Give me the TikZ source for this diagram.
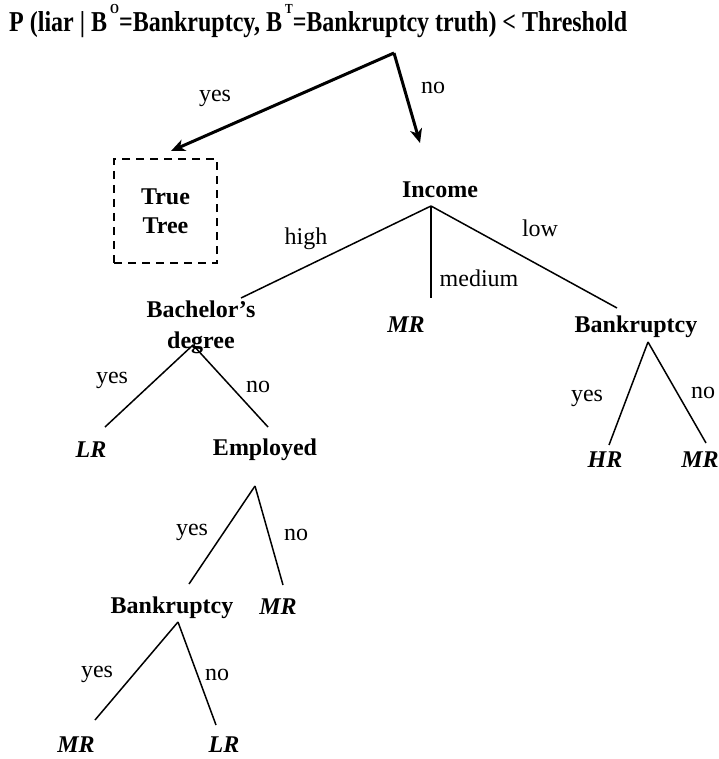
\documentclass[tikz,border=0pt]{standalone}
\usepackage{fontspec}
\setmainfont{Liberation Serif}
\usetikzlibrary{arrows.meta,calc}
\newcommand{\supl}[1]{\hspace{3pt}\raisebox{15.5pt}{\fontsize{11.5}{11.5}\selectfont #1}}
\begin{document}
\begin{tikzpicture}[x=1pt,y=-1pt,
  bnode/.style={font=\fontsize{24}{31}\selectfont\bfseries, inner sep=0pt, align=center},
  leaf/.style={font=\fontsize{24}{26}\selectfont\bfseries\itshape, inner sep=0pt},
  lbl/.style={font=\fontsize{24}{26}\selectfont, inner sep=0pt},
  edge/.style={line width=1.5pt},
  bigarrow/.style={line width=3pt, -{Stealth[length=14pt,width=12pt,inset=4pt]}}
]
\useasboundingbox (0,0) rectangle (718,759);

% title
\node[bnode, anchor=base west] (title) at (9,32) {\scalebox{1}[1.2]{P (liar | B\supl{O}=Bankruptcy, B\supl{T}=Bankruptcy truth) < Threshold}};
\coordinate (apex) at (394,53);

% true tree box
\node[bnode, draw, line width=2.5pt, dash pattern=on 8pt off 6pt,
      minimum width=103pt, minimum height=104pt, font=\fontsize{24}{29}\selectfont\bfseries] (tt) at (165.5,211) {True\\Tree};

% income
\node[bnode] (inc) at (440,190) {Income};
\coordinate (yesTip) at (171,151);
\coordinate (noTip) at (420,143);
\draw[bigarrow] (apex) -- (yesTip);
\draw[bigarrow] (apex) -- (noTip);
\node[lbl] (lyes0) at (215,98) {yes};
\node[lbl] (lno0) at (433,88) {no};

\coordinate (incA) at (431,206);
\coordinate (bachT) at (241,298);
\coordinate (mrT) at (431,298);
\coordinate (bkT) at (617,308);
\draw[edge] (incA) -- (bachT);
\draw[edge] (incA) -- (mrT);
\draw[edge] (incA) -- (bkT);
\node[lbl] (lhigh) at (306,239) {high};
\node[lbl] (llow) at (540,228) {low};
\node[lbl] (lmed) at (479,278) {medium};

\node[bnode] (bach) at (201,327) {Bachelor’s\\degree};
\node[leaf] (mr1) at (406,325) {MR};
\node[bnode] (bk1) at (636,327) {Bankruptcy};

% right bankruptcy
\coordinate (bk1A) at (648,342);
\coordinate (hrT) at (609,445);
\coordinate (mr2T) at (706,443);
\draw[edge] (bk1A) -- (hrT);
\draw[edge] (bk1A) -- (mr2T);
\node[lbl] (lyes1) at (587,398) {yes};
\node[lbl] (lno1) at (703,393) {no};
\node[leaf] (hr) at (605,460) {HR};
\node[leaf] (mr2) at (700,460) {MR};

% bachelor's
\coordinate (bachA) at (193,345);
\coordinate (lrT) at (105,427);
\coordinate (empT) at (268,427);
\draw[edge] (bachA) -- (lrT);
\draw[edge] (bachA) -- (empT);
\node[lbl] (lyes2) at (112,380) {yes};
\node[lbl] (lno2) at (258,387) {no};
\node[leaf] (lr1) at (91,450) {LR};
\node[bnode] (emp) at (265,450) {Employed};

% employed
\coordinate (empA) at (255,486);
\coordinate (bk2T) at (189,584);
\coordinate (mr3T) at (283,585);
\draw[edge] (empA) -- (bk2T);
\draw[edge] (empA) -- (mr3T);
\node[lbl] (lyes3) at (192,532) {yes};
\node[lbl] (lno3) at (296,535) {no};
\node[bnode] (bk2) at (172,608) {Bankruptcy};
\node[leaf] (mr3) at (278,607) {MR};

% lower bankruptcy
\coordinate (bk2A) at (178,622);
\coordinate (mr4T) at (95,720);
\coordinate (lr2T) at (216,725);
\draw[edge] (bk2A) -- (mr4T);
\draw[edge] (bk2A) -- (lr2T);
\node[lbl] (lyes4) at (97,674) {yes};
\node[lbl] (lno4) at (217,675) {no};
\node[leaf] (mr4) at (76,745) {MR};
\node[leaf] (lr2) at (224,745) {LR};
\end{tikzpicture}
\end{document}
